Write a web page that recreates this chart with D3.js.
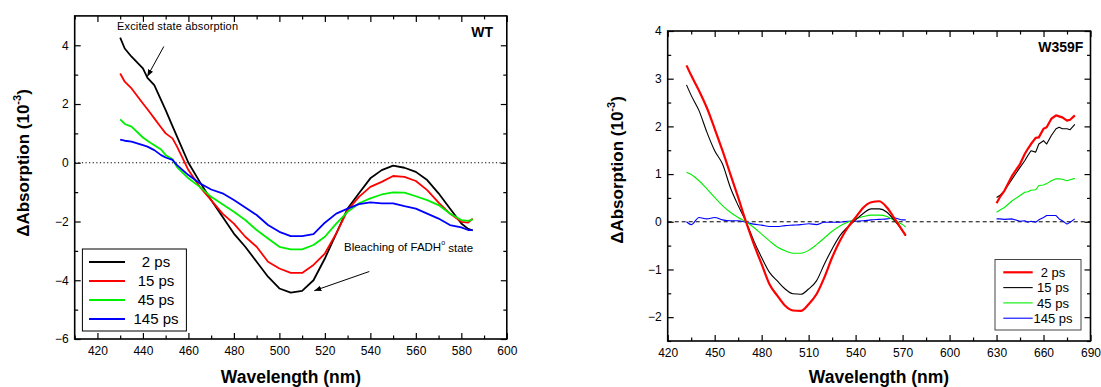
<!DOCTYPE html>
<html><head><meta charset="utf-8">
<script src="https://cdn.jsdelivr.net/npm/d3@7/dist/d3.min.js"></script>
<style>
body{margin:0;background:#fff}
text{font-family:"Liberation Sans",Arial,Helvetica,sans-serif;fill:#000}
</style>
</head><body>
<svg id="chart" width="1101" height="387"></svg>
<script>
// ---------------- DATA ----------------
const seriesLabels = ["2 ps", "15 ps", "45 ps", "145 ps"];

// Left panel: WT
const wtWavelength = [430,432,435,440,442,445,448,450,453,455,460,465,470,475,480,485,490,495,500,505,510,515,520,525,530,535,540,545,550,555,560,565,570,575,580,583,585];
const wt2ps   = [4.26,3.89,3.61,3.21,2.89,2.64,2.13,1.79,1.25,0.89,0.0,-0.65,-1.27,-1.84,-2.41,-2.86,-3.37,-3.88,-4.28,-4.42,-4.36,-4.0,-3.26,-2.41,-1.56,-1.04,-0.53,-0.25,-0.10,-0.17,-0.31,-0.59,-1.04,-1.56,-2.07,-2.25,-2.30];
const wt15ps  = [3.04,2.76,2.53,2.02,1.82,1.51,1.20,1.00,0.83,0.55,-0.25,-0.82,-1.27,-1.73,-2.07,-2.52,-2.86,-3.37,-3.60,-3.75,-3.75,-3.48,-3.09,-2.41,-1.61,-1.16,-0.82,-0.65,-0.45,-0.48,-0.62,-0.93,-1.36,-1.73,-2.01,-2.04,-1.90];
const wt45ps  = [1.48,1.32,1.23,0.86,0.75,0.60,0.45,0.26,0.12,-0.15,-0.53,-0.82,-1.16,-1.41,-1.67,-1.95,-2.29,-2.58,-2.86,-2.95,-2.95,-2.80,-2.52,-2.07,-1.67,-1.38,-1.21,-1.08,-1.01,-1.02,-1.14,-1.27,-1.44,-1.73,-1.95,-1.98,-1.93];
const wt145ps = [0.79,0.75,0.72,0.60,0.55,0.43,0.26,0.18,0.10,-0.08,-0.42,-0.70,-0.91,-1.04,-1.27,-1.52,-1.78,-2.12,-2.35,-2.50,-2.50,-2.43,-2.04,-1.73,-1.56,-1.41,-1.35,-1.38,-1.38,-1.48,-1.56,-1.73,-1.90,-2.12,-2.20,-2.29,-2.29];

// Right panel: W359F (two spectral windows)
const mutWavelengthA = [432,435,440,445,450,455,460,465,470,475,480,485,490,495,500,505,510,515,520,525,530,535,540,545,550,555,560,565,570,572];
const mut2psA   = [3.28,3.07,2.75,2.39,1.95,1.49,1.00,0.51,0.00,-0.47,-0.89,-1.31,-1.55,-1.76,-1.86,-1.87,-1.73,-1.52,-1.17,-0.75,-0.40,-0.12,0.09,0.30,0.41,0.43,0.30,0.06,-0.19,-0.29];
const mut15psA  = [2.87,2.65,2.33,1.88,1.49,1.21,0.72,0.34,0.00,-0.40,-0.75,-1.06,-1.24,-1.41,-1.51,-1.52,-1.41,-1.24,-0.89,-0.57,-0.29,-0.11,0.04,0.18,0.27,0.27,0.20,0.02,-0.19,-0.29];
const mut45psA  = [1.04,0.99,0.86,0.69,0.51,0.34,0.20,0.09,0.00,-0.12,-0.26,-0.40,-0.53,-0.61,-0.66,-0.66,-0.60,-0.48,-0.34,-0.20,-0.09,-0.01,0.06,0.11,0.14,0.14,0.11,0.02,-0.06,-0.11];
const mut145psA = [0.00,-0.06,0.09,0.06,0.09,0.04,0.02,0.02,-0.01,-0.05,-0.07,-0.10,-0.10,-0.08,-0.07,-0.06,-0.04,-0.06,-0.01,-0.01,-0.01,0.01,0.01,0.02,0.04,0.05,0.06,0.08,0.04,0.04];

const mutWavelengthB = [630,632,635,640,645,648,650,652,655,657,660,662,665,668,670,672,675,677,680];
const mut2psB   = [0.39,0.51,0.65,0.97,1.21,1.42,1.53,1.63,1.76,1.77,1.95,1.98,2.16,2.23,2.21,2.19,2.12,2.14,2.23];
const mut15psB  = [0.51,0.55,0.65,0.90,1.14,1.28,1.39,1.49,1.46,1.63,1.70,1.63,1.81,1.95,1.98,1.95,1.95,1.93,2.04];
const mut45psB  = [0.20,0.24,0.30,0.44,0.55,0.62,0.63,0.66,0.67,0.76,0.77,0.80,0.86,0.90,0.90,0.89,0.86,0.88,0.91];
const mut145psB = [0.06,0.06,0.05,0.06,0.01,0.02,-0.01,0.01,-0.01,0.04,0.09,0.13,0.13,0.13,0.06,0.02,-0.05,-0.01,0.06];

// tick values
const wtXTicks = [420,440,460,480,500,520,540,560,580,600];
const wtYTicks = [-6,-4,-2,0,2,4];
const mutXTicks = [420,450,480,510,540,570,600,630,660,690];
const mutYTicks = [-2,-1,0,1,2,3,4];

// ---------------- DRAW ----------------
const svg = d3.select("#chart");
const FONT = '"Liberation Sans",Arial,Helvetica,sans-serif';

const defs = svg.append("defs");
defs.append("marker").attr("id","arrow").attr("viewBox","0 0 10 10")
  .attr("refX",10).attr("refY",5).attr("markerWidth",7).attr("markerHeight",7)
  .attr("markerUnits","userSpaceOnUse").attr("orient","auto")
  .append("path").attr("d","M0,1 L10,5 L0,9 Z").attr("fill","#000");

function drawAxes(x, y, xMajor, xMinor, yMajor, yMinor) {
  const [x0, x1] = x.range();
  const [y0, y1] = y.range(); // y0 bottom, y1 top
  const style = g => {
    g.select(".domain").remove();
    g.selectAll("line").attr("stroke","#000").attr("stroke-width",1.2);
    g.selectAll("text").attr("font-size",12).attr("font-family",FONT).attr("fill","#222");
  };
  svg.append("g").attr("transform",`translate(0,${y0})`)
    .call(d3.axisBottom(x).tickValues(xMajor).tickSizeInner(-6).tickSizeOuter(0).tickPadding(7).tickFormat(d3.format("d")))
    .call(style);
  svg.append("g").attr("transform",`translate(0,${y0})`)
    .call(d3.axisBottom(x).tickValues(xMinor).tickSizeInner(-3.5).tickSizeOuter(0).tickFormat(""))
    .call(style);
  svg.append("g").attr("transform",`translate(0,${y1})`)
    .call(d3.axisTop(x).tickValues(xMajor).tickSizeInner(-6).tickSizeOuter(0).tickFormat(""))
    .call(style);
  svg.append("g").attr("transform",`translate(0,${y1})`)
    .call(d3.axisTop(x).tickValues(xMinor).tickSizeInner(-3.5).tickSizeOuter(0).tickFormat(""))
    .call(style);
  svg.append("g").attr("transform",`translate(${x0},0)`)
    .call(d3.axisLeft(y).tickValues(yMajor).tickSizeInner(-6).tickSizeOuter(0).tickPadding(6).tickFormat(d3.format("d")))
    .call(style);
  svg.append("g").attr("transform",`translate(${x0},0)`)
    .call(d3.axisLeft(y).tickValues(yMinor).tickSizeInner(-3.5).tickSizeOuter(0).tickFormat(""))
    .call(style);
  svg.append("g").attr("transform",`translate(${x1},0)`)
    .call(d3.axisRight(y).tickValues(yMajor).tickSizeInner(-6).tickSizeOuter(0).tickFormat(""))
    .call(style);
  svg.append("g").attr("transform",`translate(${x1},0)`)
    .call(d3.axisRight(y).tickValues(yMinor).tickSizeInner(-3.5).tickSizeOuter(0).tickFormat(""))
    .call(style);
  svg.append("rect").attr("x",x0).attr("y",y1).attr("width",x1-x0).attr("height",y0-y1)
    .attr("fill","none").attr("stroke","#000").attr("stroke-width",1.6);
}

function yTitle(cx, cy) {
  const t = svg.append("text").attr("transform",`translate(${cx},${cy}) rotate(-90)`)
    .attr("text-anchor","middle").attr("font-size",17).attr("font-weight","bold").attr("font-family",FONT)
    .attr("dy","0.35em");
  t.append("tspan").text("\u0394Absorption (10");
  t.append("tspan").attr("font-size",11).attr("dy","-0.75em").text("-3");
  t.append("tspan").attr("dy","0.5em").text(")");
}
function xTitle(cx, by) {
  svg.append("text").attr("x",cx).attr("y",by).attr("text-anchor","middle")
    .attr("font-size",17.5).attr("font-weight","bold").attr("font-family",FONT).text("Wavelength (nm)");
}

// ----- Left panel (WT) -----
{
  const x = d3.scaleLinear().domain([410,600]).range([74.7,506.8]);
  const y = d3.scaleLinear().domain([-6,5]).range([339,15.9]);
  const xMinor = d3.range(410,600,10).filter(v => !wtXTicks.includes(v));
  const yMinor = d3.range(-5,5,2);

  svg.append("line").attr("x1",x(410)).attr("x2",x(600)).attr("y1",y(0)).attr("y2",y(0))
    .attr("stroke","#000").attr("stroke-width",1).attr("stroke-dasharray","1.2,2.4");

  const series = [wt2ps, wt15ps, wt45ps, wt145ps];
  const colors = ["#000000","#ff0000","#00ee00","#0000ff"];
  const line = d3.line().x((d,i)=>x(wtWavelength[i])).y(d=>y(d));
  series.forEach((s,i)=>{
    svg.append("path").datum(s).attr("d",line).attr("fill","none")
      .attr("stroke",colors[i]).attr("stroke-width",1.8).attr("stroke-linejoin","round");
  });

  drawAxes(x, y, wtXTicks, xMinor, wtYTicks, yMinor);

  const lg = svg.append("g");
  lg.append("rect").attr("x",82.4).attr("y",249).attr("width",104).attr("height",82)
    .attr("fill","#fff").attr("stroke","#000").attr("stroke-width",1);
  seriesLabels.forEach((lab,i)=>{
    const yy = 262 + i*19;
    lg.append("line").attr("x1",89).attr("x2",125).attr("y1",yy).attr("y2",yy)
      .attr("stroke",colors[i]).attr("stroke-width",2);
    lg.append("text").attr("x",156).attr("y",yy).attr("dy","0.36em").attr("text-anchor","middle")
      .attr("font-size",15).attr("font-family",FONT).attr("fill","#222").text(lab);
  });

  svg.append("text").attr("x",493).attr("y",37).attr("text-anchor","end")
    .attr("font-size",14).attr("font-weight","bold").attr("font-family",FONT).text("WT");

  svg.append("text").attr("x",117).attr("y",30).attr("font-size",11).attr("font-family",FONT)
    .attr("fill","#333").attr("textLength",121).text("Excited state absorption");
  svg.append("line").attr("x1",163.8).attr("y1",46.5).attr("x2",147.3).attr("y2",76.5)
    .attr("stroke","#000").attr("stroke-width",1).attr("marker-end","url(#arrow)");
  const bt = svg.append("text").attr("x",344).attr("y",251).attr("font-size",11.5).attr("font-family",FONT).attr("fill","#333");
  bt.append("tspan").text("Bleaching of FADH");
  bt.append("tspan").attr("font-size",7).attr("dy","-0.8em").text("o");
  bt.append("tspan").attr("dy","0.55em").text(" state");
  svg.append("line").attr("x1",369.3).attr("y1",271.5).attr("x2",314.3).attr("y2",290.7)
    .attr("stroke","#000").attr("stroke-width",1).attr("marker-end","url(#arrow)");

  yTitle(23, 163);
  xTitle(291, 383);
}

// ----- Right panel (W359F) -----
{
  const x = d3.scaleLinear().domain([420,690]).range([667.7,1090.5]);
  const y = d3.scaleLinear().domain([-2.5,4]).range([341,31]);
  const xMinor = d3.range(435,690,30);
  const yMinor = d3.range(-2.5,4,1);

  svg.append("line").attr("x1",x(420)).attr("x2",x(690)).attr("y1",y(0)).attr("y2",y(0))
    .attr("stroke","#000").attr("stroke-width",1).attr("stroke-dasharray","4,3");

  const colors = ["#ff0000","#000000","#00ee00","#0000ff"];
  const widths = [2.2,1.1,1.1,1.1];
  const seriesA = [mut2psA, mut15psA, mut45psA, mut145psA];
  const seriesB = [mut2psB, mut15psB, mut45psB, mut145psB];
  const lineA = d3.line().x((d,i)=>x(mutWavelengthA[i])).y(d=>y(d)).curve(d3.curveMonotoneX);
  const lineB = d3.line().x((d,i)=>x(mutWavelengthB[i])).y(d=>y(d));
  [3,2,1,0].forEach(i=>{
    svg.append("path").datum(seriesA[i]).attr("d",lineA).attr("fill","none")
      .attr("stroke",colors[i]).attr("stroke-width",widths[i]).attr("stroke-linejoin","round");
    svg.append("path").datum(seriesB[i]).attr("d",lineB).attr("fill","none")
      .attr("stroke",colors[i]).attr("stroke-width",widths[i]).attr("stroke-linejoin","round");
  });

  drawAxes(x, y, mutXTicks, xMinor, mutYTicks, yMinor);

  const lg = svg.append("g");
  lg.append("rect").attr("x",995).attr("y",259.5).attr("width",86).attr("height",70.5)
    .attr("fill","#fff").attr("stroke","#444").attr("stroke-width",1);
  seriesLabels.forEach((lab,i)=>{
    const yy = 272.3 + i*15.3;
    lg.append("line").attr("x1",1003.3).attr("x2",1032.7).attr("y1",yy).attr("y2",yy)
      .attr("stroke",colors[i]).attr("stroke-width",widths[i]);
    lg.append("text").attr("x",1053).attr("y",yy).attr("dy","0.36em").attr("text-anchor","middle")
      .attr("font-size",13).attr("font-family",FONT).attr("fill","#222").text(lab);
  });

  svg.append("text").attr("x",1083.4).attr("y",51.5).attr("text-anchor","end")
    .attr("font-size",14).attr("font-weight","bold").attr("font-family",FONT).text("W359F");

  yTitle(617, 170);
  xTitle(879, 383);
}
</script>
</body></html>
